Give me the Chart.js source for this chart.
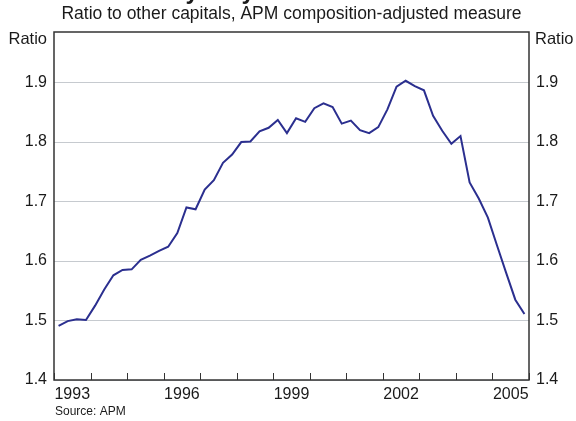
<!DOCTYPE html>
<html>
<head>
<meta charset="utf-8">
<script src="https://cdn.jsdelivr.net/npm/chart.js@4.4.1/dist/chart.umd.min.js"></script>
<style>
  html, body { margin: 0; padding: 0; background: #fff; }
  #wrap { width: 576px; height: 421px; position: relative; }
</style>
</head>
<body>
<div id="wrap"><canvas id="chart"></canvas></div>
<script>
// DATA - quarterly ratio, Q1..Q4 per year
const years = [1993, 1994, 1995, 1996, 1997, 1998, 1999, 2000, 2001, 2002, 2003, 2004, 2005];
const ratio = [
  1.491, 1.499, 1.502, 1.501,   // 1993
  1.525, 1.552, 1.576, 1.585,   // 1994
  1.586, 1.602, 1.609, 1.617,   // 1995
  1.624, 1.647, 1.690, 1.687,   // 1996
  1.720, 1.736, 1.765, 1.779,   // 1997
  1.800, 1.801, 1.818, 1.824,   // 1998
  1.837, 1.815, 1.840, 1.834,   // 1999
  1.857, 1.865, 1.859, 1.831,   // 2000
  1.836, 1.820, 1.815, 1.825,   // 2001
  1.855, 1.893, 1.903, 1.894,   // 2002
  1.887, 1.844, 1.819, 1.797,   // 2003
  1.810, 1.732, 1.705, 1.673,   // 2004
  1.626, 1.580, 1.535, 1.511    // 2005
];
const yearLabels = [1993, 1996, 1999, 2002, 2005];
const yTicks = [1.4, 1.5, 1.6, 1.7, 1.8, 1.9];

const FONT = "'Liberation Sans', Arial, sans-serif";
const TEXT = "#1a1a1a";

// quarter midpoints on a year axis
const points = ratio.map((v, i) => ({
  x: years[Math.floor(i / 4)] + ((i % 4) + 0.5) / 4,
  y: v
}));

// frame, inward year ticks, titles, source
const decor = {
  id: "decor",
  afterDraw(chart) {
    const { ctx, chartArea: a } = chart;
    const xs = chart.scales.x;
    ctx.save();
    // year boundary ticks
    ctx.strokeStyle = "#333";
    ctx.lineWidth = 1;
    years.concat([years[years.length - 1] + 1]).forEach(yr => {
      const px = Math.round(xs.getPixelForValue(yr)) + 0.5;
      ctx.beginPath();
      ctx.moveTo(px, a.bottom);
      ctx.lineTo(px, a.bottom - 7);
      ctx.stroke();
    });
    // box
    ctx.lineWidth = 1.5;
    ctx.strokeStyle = "#333";
    ctx.strokeRect(a.left, a.top, a.right - a.left, a.bottom - a.top);

    ctx.fillStyle = TEXT;
    // main title (cropped off the top)
    ctx.font = "bold 24px " + FONT;
    ctx.textAlign = "center";
    ctx.textBaseline = "alphabetic";
    ctx.fillText("Sydney House Prices", (a.left + a.right) / 2, -1);
    // subtitle
    ctx.font = "17.5px " + FONT;
    ctx.textBaseline = "middle";
    ctx.fillText("Ratio to other capitals, APM composition-adjusted measure", (a.left + a.right) / 2, 14);
    // unit labels
    ctx.font = "16.5px " + FONT;
    ctx.textAlign = "right";
    ctx.fillText("Ratio", a.left - 7, a.top + 7);
    ctx.textAlign = "left";
    ctx.fillText("Ratio", a.right + 6, a.top + 7);
    // source
    ctx.font = "12px " + FONT;
    ctx.fillText("Source: APM", a.left + 1, 412);
    ctx.restore();
  }
};

const yCommon = {
  type: "linear",
  min: 1.4,
  max: 1.985,
  afterBuildTicks: s => { s.ticks = yTicks.map(v => ({ value: v })); },
  ticks: {
    padding: 7,
    color: TEXT,
    font: { family: FONT, size: 16 },
    callback: v => v.toFixed(1)
  },
  border: { display: false }
};

new Chart(document.getElementById("chart"), {
  type: "line",
  data: {
    datasets: [{
      data: points,
      borderColor: "#2b2f8f",
      borderWidth: 2,
      pointRadius: 0,
      tension: 0,
      fill: false
    }]
  },
  options: {
    responsive: true,
    maintainAspectRatio: false,
    animation: false,
    layout: { padding: { top: 32, left: 0, right: 0, bottom: 0 } },
    plugins: { legend: { display: false }, tooltip: { enabled: false } },
    scales: {
      x: {
        type: "linear",
        min: years[0],
        max: years[years.length - 1] + 1,
        afterBuildTicks: s => { s.ticks = years.map(y => ({ value: y + 0.5 })); },
        afterFit: s => { s.height = 41; },
        grid: { display: false },
        border: { display: false },
        ticks: {
          padding: -3,
          maxRotation: 0,
          autoSkip: false,
          color: TEXT,
          font: { family: FONT, size: 16 },
          callback: v => {
            const yr = Math.floor(v);
            return yearLabels.includes(yr) ? String(yr) : "";
          }
        }
      },
      y: Object.assign({}, yCommon, {
        position: "left",
        afterFit: s => { s.width = 54; },
        grid: { color: "#c6cacf", lineWidth: 1, drawTicks: false }
      }),
      y2: Object.assign({}, yCommon, {
        position: "right",
        afterFit: s => { s.width = 47; },
        grid: { display: false, drawTicks: false }
      })
    }
  },
  plugins: [decor]
});
</script>
</body>
</html>
